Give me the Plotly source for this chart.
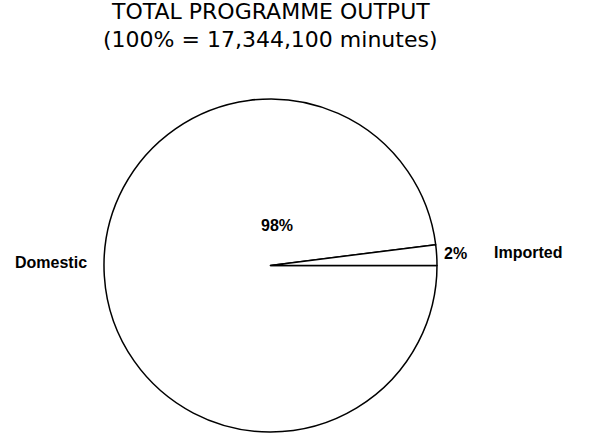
import plotly.graph_objects as go

# Programme output by origin (share of total minutes)
origins = ["Domestic", "Imported"]
shares = [98, 2]
total_minutes = "17,344,100"

W, H = 589, 433
total = sum(shares)
pct = [f"{round(100 * v / total)}%" for v in shares]

# pie placement (pixels) -> paper domain
cx, cy, r = 270.5, 265.5, 166.5


def px(x):
    return x / W


def py(y):
    return 1 - y / H


fig = go.Figure(
    go.Pie(
        labels=origins,
        values=shares,
        sort=False,
        direction="clockwise",
        rotation=90,
        textinfo="none",
        hoverinfo="label+percent",
        marker=dict(colors=["white", "white"], line=dict(color="black", width=1.5)),
        domain=dict(x=[px(cx - r), px(cx + r)], y=[py(cy + r), py(cy - r)]),
        showlegend=False,
    )
)

label_font = dict(family="Liberation Sans, Arial, sans-serif", size=16, color="black")
annots = [
    # percentage labels
    dict(x=px(277), y=py(225), text=f"<b>{pct[0]}</b>"),
    dict(x=px(455), y=py(253), text=f"<b>{pct[1]}</b>"),
    # category labels
    dict(x=px(50.5), y=py(262), text=f"<b>{origins[0]}</b>"),
    dict(x=px(528), y=py(252), text=f"<b>{origins[1]}</b>"),
]
for a in annots:
    a.update(xref="paper", yref="paper", showarrow=False, xanchor="center",
             yanchor="middle", font=label_font)

# two-line heading
title_font = dict(family="DejaVu Sans, sans-serif", size=22, color="black")
title_lines = ["TOTAL PROGRAMME OUTPUT", f"(100% = {total_minutes} minutes)"]
for text, ymid in zip(title_lines, [11.5, 39.5]):
    annots.append(
        dict(x=px(270.5), y=py(ymid), xref="paper", yref="paper", showarrow=False,
             xanchor="center", yanchor="middle", text=text, font=title_font)
    )

fig.update_layout(
    width=W, height=H,
    margin=dict(l=0, r=0, t=0, b=0),
    paper_bgcolor="white", plot_bgcolor="white",
    annotations=annots,
)

fig.write_html("out.html")
